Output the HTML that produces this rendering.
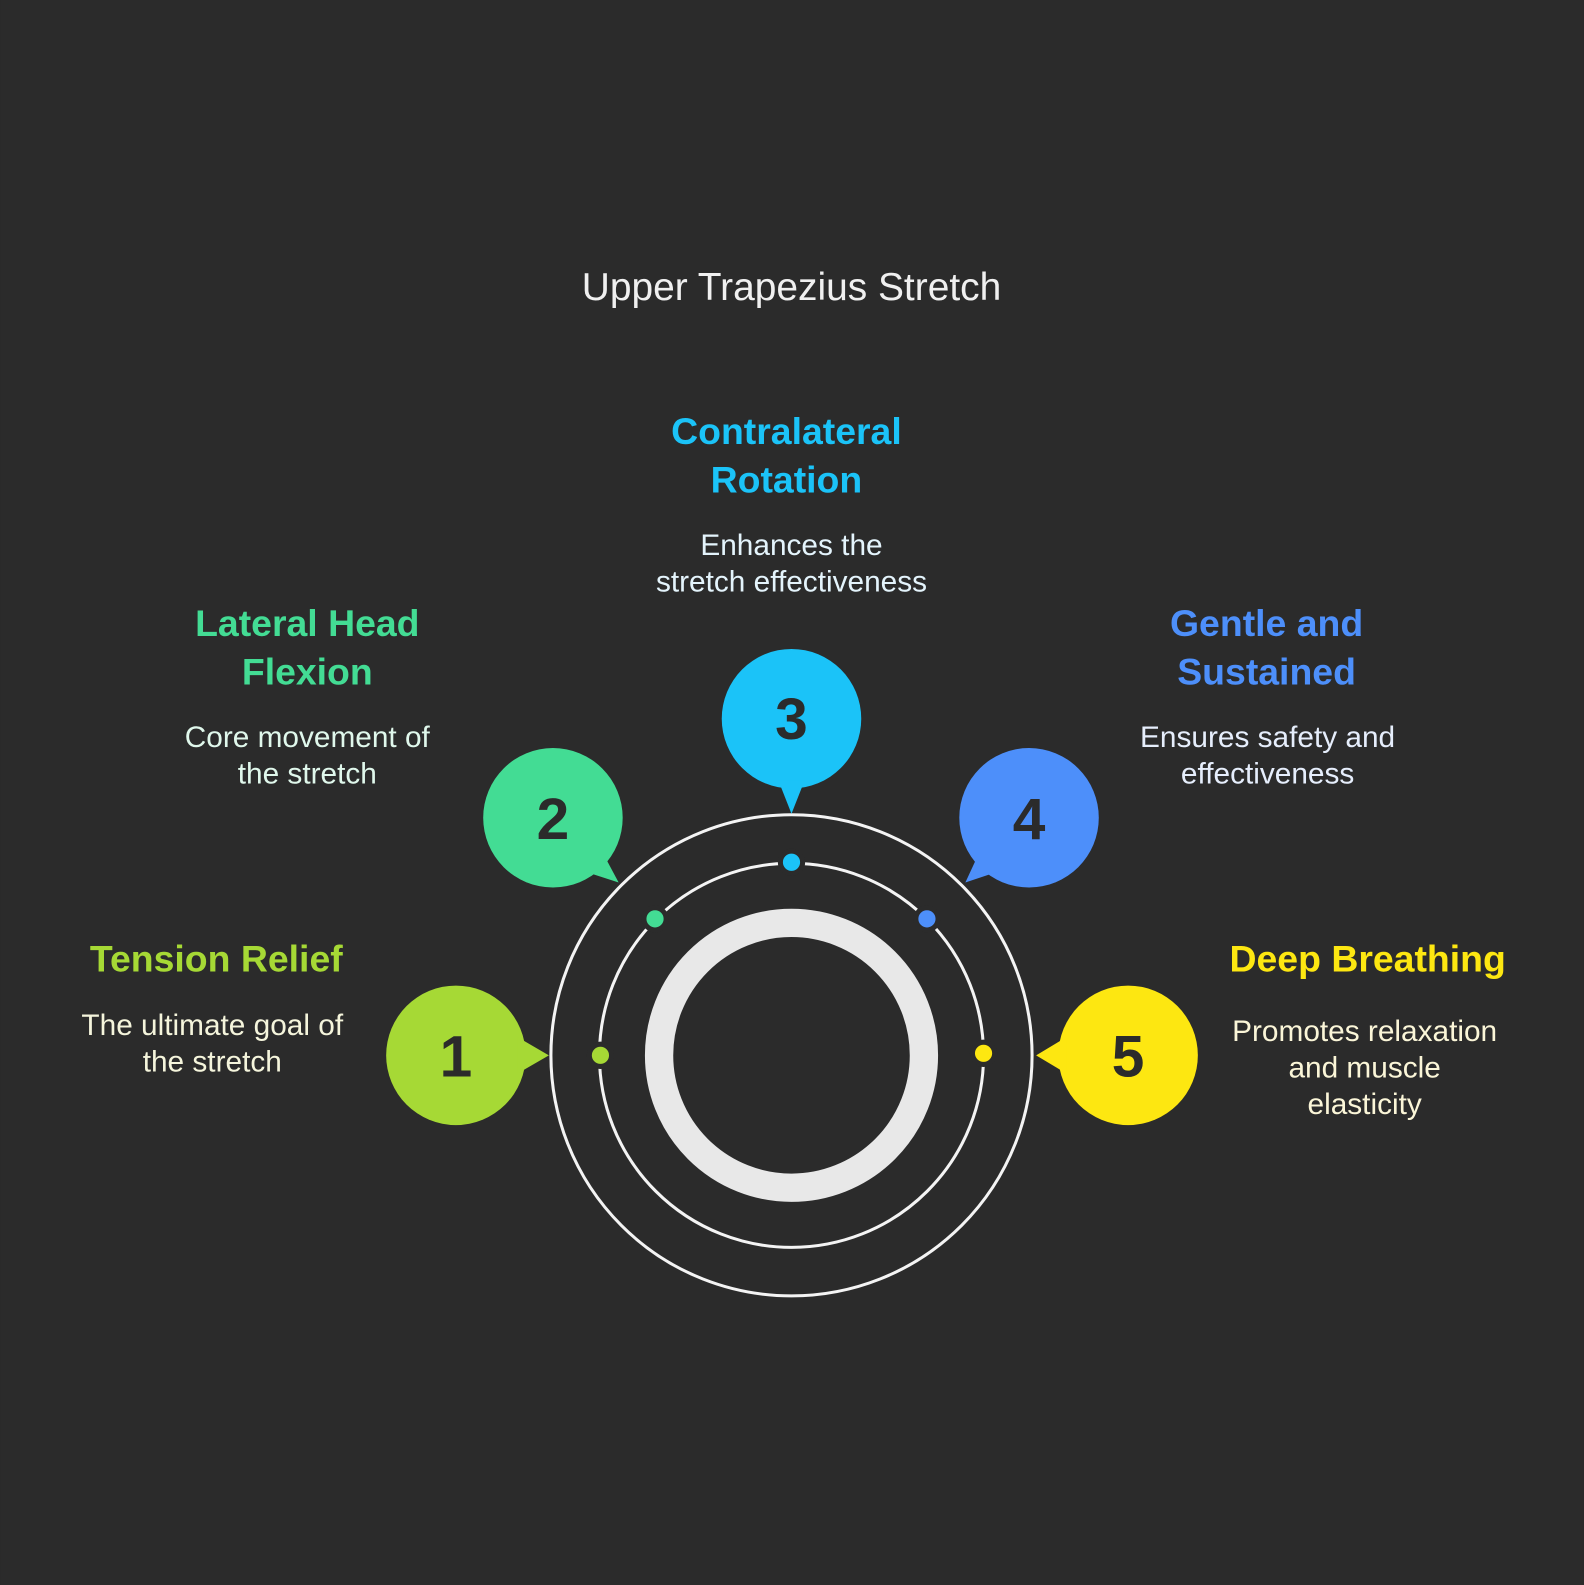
<!DOCTYPE html>
<html><head><meta charset="utf-8"><style>
html,body{margin:0;padding:0;background:#2b2b2b;}
svg{display:block;}
text{font-family:"Liberation Sans",sans-serif;}
.h{font-weight:bold;font-size:37px;text-anchor:middle;}
.d{font-size:29.5px;text-anchor:middle;}
.n{font-weight:bold;font-size:58px;text-anchor:middle;fill:#2b2b2b;}
</style></head><body>
<svg width="1584" height="1585" viewBox="0 0 1567 1568" xmlns="http://www.w3.org/2000/svg">
<rect width="1567" height="1568" fill="#2b2b2b"/>
<text x="783" y="297" font-size="38.5" fill="#f0f0f0" text-anchor="middle">Upper Trapezius Stretch</text>

<circle cx="783" cy="1044" r="238" fill="none" stroke="#f4f4f4" stroke-width="3"/>
<circle cx="783" cy="1044" r="190" fill="none" stroke="#f4f4f4" stroke-width="3"/>
<circle cx="783" cy="1044" r="131" fill="none" stroke="#e8e8e8" stroke-width="28"/>

<g stroke="#2b2b2b" stroke-width="5">
<circle cx="594" cy="1044" r="11" fill="#a6d935"/>
<circle cx="648" cy="909" r="11" fill="#43dc94"/>
<circle cx="783" cy="853" r="11" fill="#1bc3f8"/>
<circle cx="917" cy="909" r="11" fill="#4d8ffa"/>
<circle cx="973" cy="1042" r="11" fill="#fde711"/>
</g>

<circle cx="451" cy="1044" r="69" fill="#a6d935"/>
<polygon points="512,1026 543,1044 512,1062" fill="#a6d935"/>
<circle cx="547" cy="809" r="69" fill="#43dc94"/>
<polygon points="597,845 612,873 578,862" fill="#43dc94"/>
<circle cx="783" cy="711" r="69" fill="#1bc3f8"/>
<polygon points="770,772 783,805 796,772" fill="#1bc3f8"/>
<circle cx="1018" cy="809" r="69" fill="#4d8ffa"/>
<polygon points="968,845 955,873 988,862" fill="#4d8ffa"/>
<circle cx="1116" cy="1044" r="69" fill="#fde711"/>
<polygon points="1055,1026 1025,1044 1055,1062" fill="#fde711"/>

<text class="n" x="451" y="1065">1</text>
<text class="n" x="547" y="830">2</text>
<text class="n" x="783" y="731">3</text>
<text class="n" x="1018" y="830">4</text>
<text class="n" x="1116" y="1065">5</text>

<text class="h" x="214" y="961" fill="#a6d935">Tension Relief</text>
<text class="d" x="210" y="1024" fill="#f5f5dc">The ultimate goal of</text>
<text class="d" x="210" y="1060" fill="#f5f5dc">the stretch</text>

<text class="h" x="304" y="629" fill="#43dc94">Lateral Head</text>
<text class="h" x="304" y="677" fill="#43dc94">Flexion</text>
<text class="d" x="304" y="739" fill="#e0f8ec">Core movement of</text>
<text class="d" x="304" y="775" fill="#e0f8ec">the stretch</text>

<text class="h" x="778" y="439" fill="#1bc3f8">Contralateral</text>
<text class="h" x="778" y="487" fill="#1bc3f8">Rotation</text>
<text class="d" x="783" y="549" fill="#e4f4fc">Enhances the</text>
<text class="d" x="783" y="585" fill="#e4f4fc">stretch effectiveness</text>

<text class="h" x="1253" y="629" fill="#4d8ffa">Gentle and</text>
<text class="h" x="1253" y="677" fill="#4d8ffa">Sustained</text>
<text class="d" x="1254" y="739" fill="#e6eefc">Ensures safety and</text>
<text class="d" x="1254" y="775" fill="#e6eefc">effectiveness</text>

<text class="h" x="1353" y="961" fill="#fde711">Deep Breathing</text>
<text class="d" x="1350" y="1030" fill="#fbf6d8">Promotes relaxation</text>
<text class="d" x="1350" y="1066" fill="#fbf6d8">and muscle</text>
<text class="d" x="1350" y="1102" fill="#fbf6d8">elasticity</text>
</svg>
</body></html>
